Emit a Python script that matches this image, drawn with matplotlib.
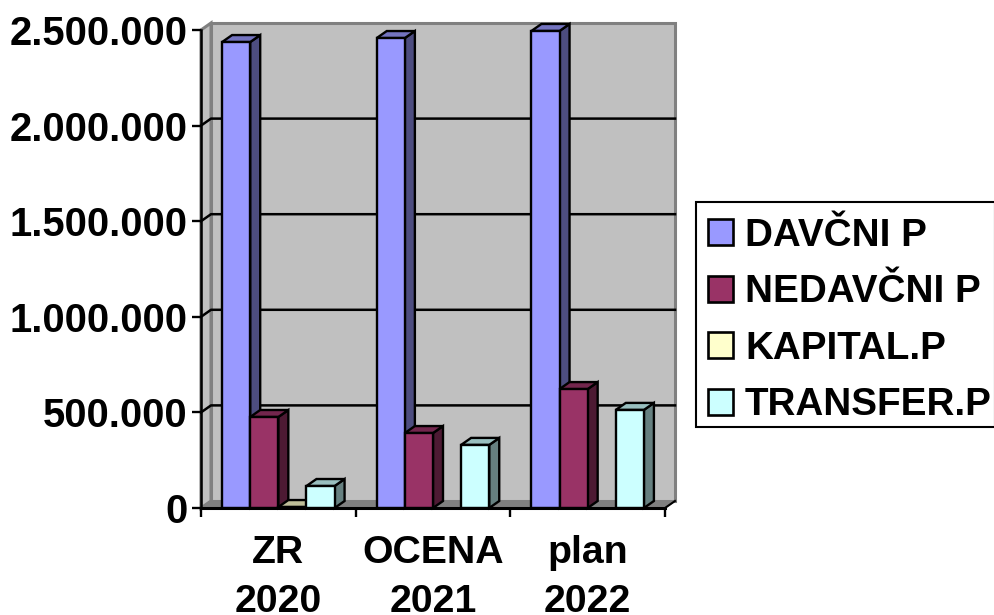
import numpy as np
import matplotlib
matplotlib.use('Agg')
import matplotlib.pyplot as plt
from matplotlib.patches import Patch, Polygon, Rectangle

plt.rcParams['font.family'] = ['Liberation Sans', 'DejaVu Sans']
plt.rcParams['font.weight'] = 'bold'

categories = ['ZR\n2020', 'OCENA\n2021', 'plan\n2022']
series_names = ['DAVČNI P', 'NEDAVČNI P', 'KAPITAL.P', 'TRANSFER.P']
davcni = [2437000, 2458000, 2495000]
nedavcni = [476000, 392000, 622000]
kapital = [5000, 0, 0]
transfer = [115000, 330000, 513000]
y_ticks = [0, 500000, 1000000, 1500000, 2000000, 2500000]
y_labels = ['0', '500.000', '1.000.000', '1.500.000', '2.000.000', '2.500.000']

colors = ['#9999FF', '#993366', '#FFFFCC', '#CCFFFF']

W, H = 995, 615
fig = plt.figure(figsize=(W / 100, H / 100), dpi=100)
ax = fig.add_axes([201 / W, 1 - 508 / H, 464 / W, 478 / H])
ax.set_xlim(0, 3)
ax.set_ylim(0, 2500000)
for s in ax.spines.values():
    s.set_visible(False)

# depth of the fake 3d box, in data units (about 10px right, 7px up)
dx = 10 / (464 / 3)
dy = 7 / (478 / 2500000)
ymax = 2500000


def poly(pts, face, edge='black', lw=1.7, z=2):
    ax.add_patch(Polygon(pts, closed=True, facecolor=face, edgecolor=edge,
                         linewidth=lw, zorder=z, clip_on=False, joinstyle='miter'))


# walls and floor
poly([(dx, dy), (3 + dx, dy), (3 + dx, ymax + dy), (dx, ymax + dy)], '#C0C0C0', '#808080', 2.2, 1)
poly([(0, 0), (dx, dy), (dx, ymax + dy), (0, ymax)], '#C0C0C0', '#808080', 2.2, 1)
poly([(0, 0), (3, 0), (3 + dx, dy), (dx, dy)], '#808080', '#808080', 1, 1)

# gridlines run along the side wall and the back wall, none at the top
for v in y_ticks[1:-1]:
    ax.plot([0, dx, 3 + dx], [v, v + dy, v + dy], color='black', lw=1.8, zorder=1.5, clip_on=False)


def shade(c, f):
    rgb = np.array(matplotlib.colors.to_rgb(c))
    return tuple(rgb * f)


def bar3d(x0, w, v, c):
    x1 = x0 + w
    poly([(x1, 0), (x1 + dx, dy), (x1 + dx, v + dy), (x1, v)], shade(c, 0.5))
    poly([(x0, v), (x1, v), (x1 + dx, v + dy), (x0 + dx, v + dy)], shade(c, 0.75))
    poly([(x0, 0), (x1, 0), (x1, v), (x0, v)], c)


all_series = [davcni, nedavcni, kapital, transfer]
bar_w = 1 / 5.5
for i in range(len(categories)):
    for j, vals in enumerate(all_series):
        if vals[i] > 0:
            bar3d(i + 0.75 * bar_w + j * bar_w, bar_w, vals[i], colors[j])

# front axis lines on top of the box
ax.plot([0, 0], [0, ymax], color='black', lw=1.8, zorder=4, clip_on=False)
ax.plot([0, 3], [0, 0], color='black', lw=2.2, zorder=4, clip_on=False)
ax.plot([3, 3 + dx], [0, dy], color='black', lw=1.5, zorder=4, clip_on=False)

ax.set_yticks(y_ticks)
ax.set_yticklabels(y_labels, fontsize=28.8, fontweight='bold')
ax.set_xticks([0, 1, 2, 3])
ax.set_xticklabels([])
ax.set_xticks([0.5, 1.5, 2.5], minor=True)
ax.set_xticklabels(categories, minor=True, fontsize=28.3, fontweight='bold', linespacing=1.46)
ax.tick_params(axis='y', length=6.5, width=1.7, pad=3)
ax.tick_params(axis='x', which='major', length=6.5, width=1.7)
ax.tick_params(axis='x', which='minor', length=0, pad=19.5)

# legend frame is drawn apart so the rows can sit lower inside it
fig.add_artist(Rectangle((696 / W, 1 - 427 / H), 299 / W, 225 / H, transform=fig.transFigure,
                         facecolor='white', edgecolor='black', linewidth=1.5, zorder=5))
handles = [Patch(facecolor=c, edgecolor='black', linewidth=1.9) for c in colors]
leg = fig.legend(handles, series_names, loc='upper left',
                 bbox_to_anchor=(697 / W, 1 - 207 / H), bbox_transform=fig.transFigure,
                 prop={'family': 'Liberation Sans', 'weight': 'bold', 'size': 27.8},
                 handlelength=0.66, handleheight=0.66, handletextpad=0.3,
                 labelspacing=0.53, borderpad=0.28, borderaxespad=0, frameon=False)
leg.set_zorder(6)

fig.savefig('out.png', dpi=100)
